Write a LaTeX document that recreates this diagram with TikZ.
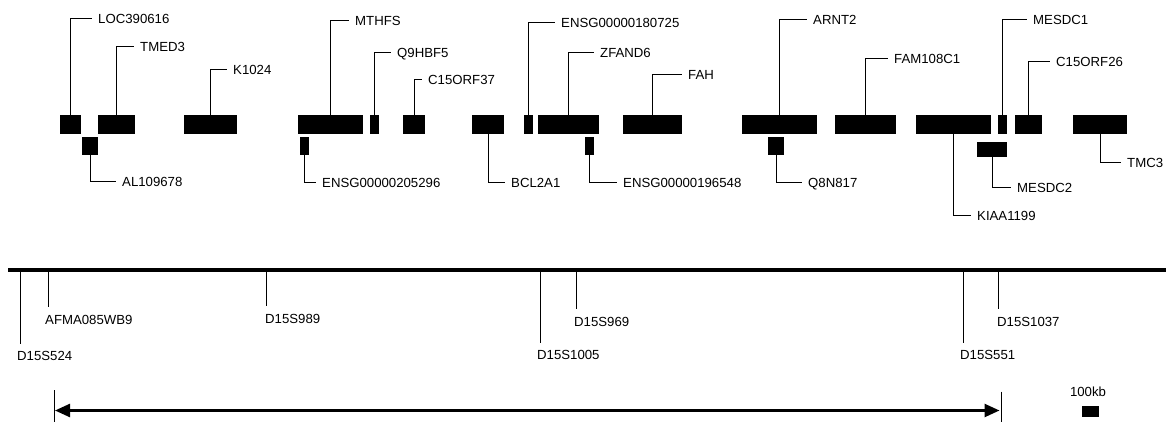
\documentclass[tikz,border=0pt]{standalone}
\usepackage{fontspec}
\setmainfont{Liberation Sans}
\usetikzlibrary{arrows.meta}
\begin{document}
\begin{tikzpicture}[x=1pt,y=-1pt,
  gbox/.style={draw=none,fill=black,inner sep=0pt,minimum height=19pt},
  lbox/.style={draw=none,fill=black,inner sep=0pt,minimum height=18pt},
  lab/.style={anchor=west,inner sep=0pt,text height=9.6pt,text depth=0pt,font=\fontsize{13.2}{15}\selectfont},
  conn/.style={draw=black,line width=1pt},
  chrom/.style={line width=4pt},
  span/.style={line width=2.5pt,{Triangle[length=15pt,width=13pt]}-{Triangle[length=15pt,width=13pt]}}]
\useasboundingbox (0,0) rectangle (1168,422);

% ---- gene boxes, upper row (y 115..134)
\node[gbox,minimum width=21pt] (b1) at (70.5,124.5) {};
\node[gbox,minimum width=37pt] (b2) at (116.5,124.5) {};
\node[gbox,minimum width=53pt] (b3) at (210.5,124.5) {};
\node[gbox,minimum width=65pt] (b4) at (330.5,124.5) {};
\node[gbox,minimum width=9pt] (b5) at (374.5,124.5) {};
\node[gbox,minimum width=22pt] (b6) at (414,124.5) {};
\node[gbox,minimum width=32pt] (b7) at (488,124.5) {};
\node[gbox,minimum width=9pt] (b8) at (528.5,124.5) {};
\node[gbox,minimum width=61pt] (b9) at (568.5,124.5) {};
\node[gbox,minimum width=59pt] (b10) at (652.5,124.5) {};
\node[gbox,minimum width=75pt] (b11) at (779.5,124.5) {};
\node[gbox,minimum width=61pt] (b12) at (865.5,124.5) {};
\node[gbox,minimum width=75pt] (b13) at (953.5,124.5) {};
\node[gbox,minimum width=9pt] (b14) at (1002.5,124.5) {};
\node[gbox,minimum width=27pt] (b15) at (1028.5,124.5) {};
\node[gbox,minimum width=54pt] (b16) at (1100,124.5) {};

% ---- gene boxes, lower row
\node[lbox,minimum width=16pt] (c1) at (90,146) {};
\node[lbox,minimum width=9pt] (c2) at (304.5,146) {};
\node[lbox,minimum width=9pt] (c3) at (589.5,146) {};
\node[lbox,minimum width=16pt] (c4) at (776,146) {};
\node[draw=none,fill=black,inner sep=0pt,minimum width=30pt,minimum height=15pt] (c5) at (992,149.5) {};

% ---- labels above
\node[lab] (l1) at (98,18.5) {LOC390616};
\node[lab] (l2) at (140,47) {TMED3};
\node[lab] (l3) at (233,70) {K1024};
\node[lab] (l4) at (355,21) {MTHFS};
\node[lab] (l5) at (397,53) {Q9HBF5};
\node[lab] (l6) at (428,80) {C15ORF37};
\node[lab] (l8) at (561,22.5) {ENSG00000180725};
\node[lab] (l9) at (600,53) {ZFAND6};
\node[lab] (l10) at (688,75) {FAH};
\node[lab] (l11) at (813,20) {ARNT2};
\node[lab] (l12) at (894,58.5) {FAM108C1};
\node[lab] (l14) at (1033,20) {MESDC1};
\node[lab] (l15) at (1056,62) {C15ORF26};

% ---- labels below
\node[lab] (l7) at (511,183) {BCL2A1};
\node[lab] (l13) at (977,216) {KIAA1199};
\node[lab] (l16) at (1127,163) {TMC3};
\node[lab] (k1) at (122,182) {AL109678};
\node[lab] (k2) at (322,183) {ENSG00000205296};
\node[lab] (k3) at (623,183) {ENSG00000196548};
\node[lab] (k4) at (808,183) {Q8N817};
\node[lab] (k5) at (1017,187.5) {MESDC2};

% ---- connectors
\foreach \b/\l in {b1/l1,b2/l2,b3/l3,b4/l4,b5/l5,b6/l6,b8/l8,b9/l9,b10/l10,b11/l11,b12/l12,b14/l14,b15/l15}
  \draw[conn] (\b.north) |- ([xshift=-6pt]\l.west);
\foreach \b/\l in {b7/l7,b13/l13,b16/l16,c1/k1,c2/k2,c3/k3,c4/k4,c5/k5}
  \draw[conn] (\b.south) |- ([xshift=-6pt]\l.west);

% ---- chromosome and markers
\coordinate (chrL) at (8,270.3);
\coordinate (chrR) at (1166,270.3);
\draw[chrom] (chrL) -- (chrR);

\node[lab] (m1) at (17,356) {D15S524};
\node[lab] (m2) at (45,319.5) {AFMA085WB9};
\node[lab] (m3) at (265,319) {D15S989};
\node[lab] (m4) at (537,355) {D15S1005};
\node[lab] (m5) at (574,321.5) {D15S969};
\node[lab] (m6) at (960,355) {D15S551};
\node[lab] (m7) at (997,321.5) {D15S1037};

\coordinate (t1) at (20.5,270);
\coordinate (t2) at (48.5,270);
\coordinate (t3) at (266.5,270);
\coordinate (t4) at (540.7,270);
\coordinate (t5) at (576.5,270);
\coordinate (t6) at (963.7,270);
\coordinate (t7) at (998.7,270);
\foreach \t/\m in {t1/m1,t2/m2,t3/m3,t4/m4,t5/m5,t6/m6,t7/m7}
  \draw[conn] (\t) -- ([yshift=7.5pt]\m.north -| \t);

% ---- span arrow
\coordinate (bLt) at (54.3,390);
\coordinate (bLb) at (54.3,423);
\coordinate (bRt) at (1001.3,391.5);
\coordinate (bRb) at (1001.3,423);
\draw[conn] (bLt) -- (bLb);
\draw[conn] (bRt) -- (bRb);
\coordinate (aL) at (55,410.5);
\coordinate (aR) at (999.5,410.5);
\draw[span] (aL) -- (aR);

% ---- scale
\node[draw=none,fill=black,inner sep=0pt,minimum width=17pt,minimum height=11pt] (sc) at (1090.5,411.5) {};
\node[lab,anchor=center] (scl) at (1088,392) {100kb};
\end{tikzpicture}
\end{document}
